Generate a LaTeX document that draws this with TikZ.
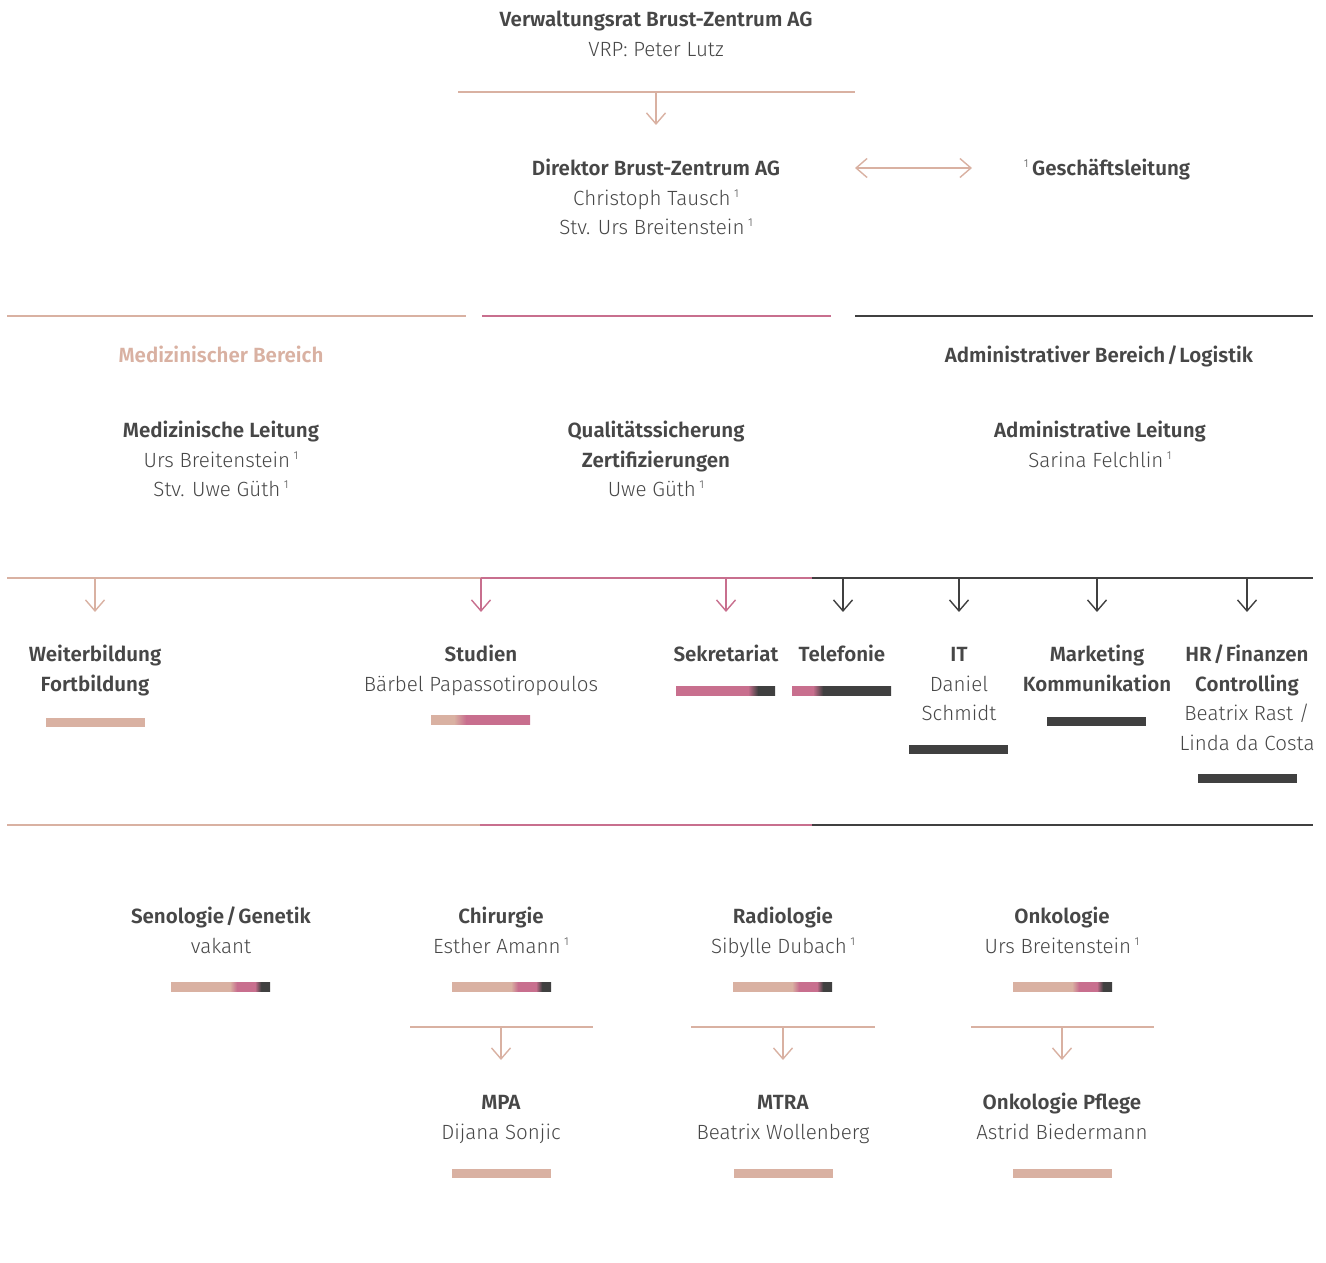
\documentclass[tikz,border=0pt]{standalone}
\usepackage{fontspec}
\setmainfont{Fira Sans}[UprightFont=* Light, BoldFont=* SemiBold]
\usepackage{tikz}
\usetikzlibrary{arrows.meta}
\definecolor{beige}{HTML}{D9B1A2}
\definecolor{rose}{HTML}{C86F8E}
\definecolor{dark}{HTML}{404040}
\definecolor{ink}{HTML}{474747}
% bar shadings (bar spans 25bp--75bp)
\pgfdeclarehorizontalshading{tri}{100bp}{color(0bp)=(beige); color(54.8bp)=(beige); color(58.3bp)=(rose); color(67.4bp)=(rose); color(70.5bp)=(dark); color(100bp)=(dark)}
\pgfdeclarehorizontalshading{studbar}{100bp}{color(0bp)=(beige); color(36.6bp)=(beige); color(42.7bp)=(rose); color(100bp)=(rose)}
\pgfdeclarehorizontalshading{sekbar}{100bp}{color(0bp)=(rose); color(61.4bp)=(rose); color(66.4bp)=(dark); color(100bp)=(dark)}
\pgfdeclarehorizontalshading{telbar}{100bp}{color(0bp)=(rose); color(35.6bp)=(rose); color(40.7bp)=(dark); color(100bp)=(dark)}
\tikzset{
    unit/.style={align=center, anchor=base, inner sep=0pt, text=ink, font=\fontsize{11.7}{16.8}\selectfont},
    link/.style={line width=0.8pt},
    arr/.style={link, -{Straight Barb[length=2.2mm, width=3.8mm]}},
    dblarr/.style={link, {Straight Barb[length=2.2mm, width=3.8mm]}-{Straight Barb[length=2.2mm, width=3.8mm]}}
}
\newcommand{\onebar}[3]{%
    \fill[#3] (#1,#2) rectangle ++(99,9);
}
\newcommand{\shadebar}[3]{%
    \shade[shading=#3] (#1,#2) rectangle ++(99,9);
}
\newcommand{\fnone}{\raisebox{0.75ex}{\fontsize{6.5}{6.5}\selectfont 1}}
\newcommand{\gl}{\kern2pt\fnone}
\newcommand{\slsh}{\kern1pt/\kern1pt}
\begin{document}
\begin{tikzpicture}[x=0.02cm, y=-0.02cm]
    \useasboundingbox (0,0) rectangle (1326,1263);

    % ---------- Top: board and director ----------
    \node[unit] (vr) at (656,56.5) {\textbf{Verwaltungsrat Brust-Zentrum AG}\\VRP: Peter Lutz};
    \coordinate (vr-l) at (458,92);
    \coordinate (vr-r) at (855,92);
    \coordinate (vr-m) at (656,92);
    \coordinate (dir-in) at (656,125);
    \draw[link, beige] (vr-l) -- (vr-r);
    \draw[arr, beige] (vr-m) -- (dir-in);

    \node[unit] (dir) at (656,235) {\textbf{Direktor Brust-Zentrum AG}\\Christoph Tausch\gl\\Stv. Urs Breitenstein\gl};
    \node[unit] (gl) at (1107,176) {\fnone\kern2pt\textbf{Geschäftsleitung}};
    \coordinate (gl-a) at (855,168);
    \coordinate (gl-b) at (972,168);
    \draw[dblarr, beige] (gl-a) -- (gl-b);

    % ---------- Second row: areas ----------
    \draw[link, beige] (7,316) coordinate (m1) -- (466,316) coordinate (m2);
    \draw[link, rose] (482,316) coordinate (q1) -- (831,316) coordinate (q2);
    \draw[link, dark] (855,316) coordinate (a1) -- (1313,316) coordinate (a2);

    \node[unit, text=beige] (mb) at (221,363) {\textbf{Medizinischer Bereich}};
    \node[unit] (ab) at (1099,363) {\textbf{Administrativer Bereich\slsh Logistik}};

    \node[unit] (ml) at (221,497) {\textbf{Medizinische Leitung}\\Urs Breitenstein\gl\\Stv. Uwe Güth\gl};
    \node[unit] (qs) at (656,497) {\textbf{Qualitätssicherung}\\\textbf{Zertifizierungen}\\Uwe Güth\gl};
    \node[unit] (al) at (1100,467.5) {\textbf{Administrative Leitung}\\Sarina Felchlin\gl};

    % ---------- Third row: staff units ----------
    \draw[link, beige] (7,578) -- (481,578);
    \draw[link, rose] (481,578) -- (812,578);
    \draw[link, dark] (812,578) -- (1313,578);
    \foreach \x/\c [count=\i] in {95/beige, 481/rose, 726/rose, 843/dark, 959/dark, 1097/dark, 1247/dark} {
        \coordinate (s\i) at (\x,578);
        \coordinate (t\i) at (\x,612);
        \draw[arr, \c] (s\i) -- (t\i);
    }

    \node[unit] (wb) at (95,691.5) {\textbf{Weiterbildung}\\\textbf{Fortbildung}};
    \node[unit] (st) at (481,691.5) {\textbf{Studien}\\Bärbel Papassotiropoulos};
    \node[unit] (sk) at (726,662) {\textbf{Sekretariat}};
    \node[unit] (tf) at (842,662) {\textbf{Telefonie}};
    \node[unit] (it) at (959,721) {\textbf{IT}\\Daniel\\Schmidt};
    \node[unit] (mk) at (1097,691.5) {\textbf{Marketing}\\\textbf{Kommunikation}};
    \node[unit] (hr) at (1247,750.5) {\textbf{HR\slsh Finanzen}\\\textbf{Controlling}\\Beatrix Rast /\\Linda da Costa};

    \onebar{46}{718}{beige}
    \shadebar{431}{716}{studbar}
    \shadebar{676}{687}{sekbar}
    \shadebar{792}{687}{telbar}
    \onebar{909}{745}{dark}
    \onebar{1047}{717}{dark}
    \onebar{1198}{774}{dark}

    % ---------- Fourth row: clinics ----------
    \draw[link, beige] (7,825) -- (480,825);
    \draw[link, rose] (480,825) -- (812,825);
    \draw[link, dark] (812,825) -- (1313,825);

    \node[unit] (sg) at (221,953.5) {\textbf{Senologie\slsh Genetik}\\vakant};
    \node[unit] (ch) at (501,953.5) {\textbf{Chirurgie}\\Esther Amann\gl};
    \node[unit] (ra) at (783,953.5) {\textbf{Radiologie}\\Sibylle Dubach\gl};
    \node[unit] (on) at (1062,953.5) {\textbf{Onkologie}\\Urs Breitenstein\gl};

    \shadebar{171}{982}{tri}
    \shadebar{452}{982}{tri}
    \shadebar{733}{982}{tri}
    \shadebar{1013}{982}{tri}

    % ---------- Fifth row: sub units ----------
    \foreach \x/\l/\r [count=\i] in {501/410/593, 783/691/875, 1062/971/1154} {
        \coordinate (u\i-l) at (\l,1027);
        \coordinate (u\i-r) at (\r,1027);
        \coordinate (u\i-m) at (\x,1027);
        \coordinate (u\i-e) at (\x,1060);
        \draw[link, beige] (u\i-l) -- (u\i-r);
        \draw[arr, beige] (u\i-m) -- (u\i-e);
    }

    \node[unit] (mpa) at (501,1139.5) {\textbf{MPA}\\Dijana Sonjic};
    \node[unit] (mtra) at (783,1139.5) {\textbf{MTRA}\\Beatrix Wollenberg};
    \node[unit] (op) at (1062,1139.5) {\textbf{Onkologie Pflege}\\Astrid Biedermann};

    \onebar{452}{1169}{beige}
    \onebar{734}{1169}{beige}
    \onebar{1013}{1169}{beige}
\end{tikzpicture}
\end{document}
